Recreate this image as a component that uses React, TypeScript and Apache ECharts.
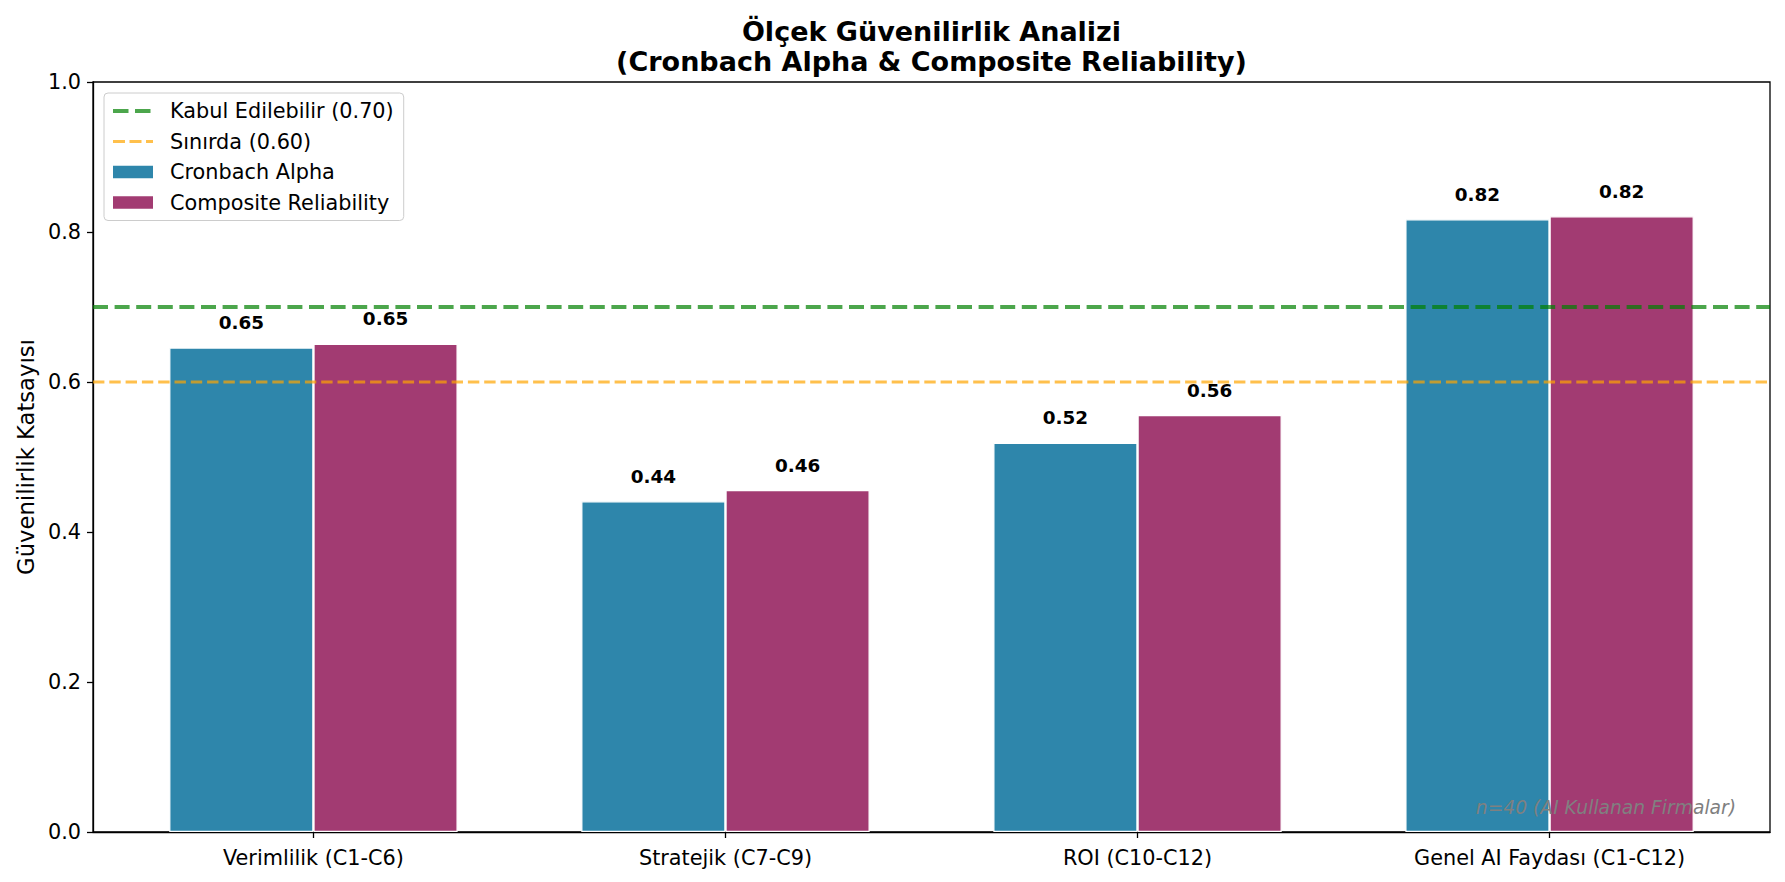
import React, { useEffect, useRef } from "react";
import * as echarts from "echarts";

const categories = ["Verimlilik (C1-C6)", "Stratejik (C7-C9)", "ROI (C10-C12)", "Genel AI Faydası (C1-C12)"];
const categoryPositions = [0, 1, 2, 3];
const cronbachAlpha = [0.646, 0.441, 0.519, 0.817];
const compositeReliability = [0.651, 0.456, 0.556, 0.821];
const acceptableThreshold = 0.7;
const borderlineThreshold = 0.6;
const xRange = [-0.535, 3.535];

const FONT = "DejaVu Sans";

const GREEN = "rgba(0,128,0,0.7)";
const ORANGE = "rgba(255,165,0,0.7)";
const BLUE = "#2E86AB";
const MAGENTA = "#A23B72";

// legend handle shapes (dashed line samples)
const greenDashIcon = "path://M0,0H15.5V4H0Z M22,0H37.5V4H22Z M40,0L40,4Z";
const orangeDashIcon = "path://M0,0.5H12V3.5H0Z M16.5,0.5H28.5V3.5H16.5Z M33,0.5H40V3.5H33Z M0,0L0,4Z M40,0L40,4Z";

export default function App() {
  const ref = useRef<HTMLDivElement>(null);
  useEffect(() => {
    document.body.style.margin = "0";
    const chart = echarts.init(ref.current!, null, { renderer: "svg" });
    const W = 1785;
    const gridLeft = 93;
    const gridRight = 15;
    const gridTop = 82;
    const gridBottom = 50;
    const plotCenter = (gridLeft + (W - gridRight)) / 2;

    const barLabel = {
      show: true,
      position: "top",
      distance: 16,
      formatter: (p: any) => Number(p.value[1]).toFixed(2),
      fontFamily: FONT,
      fontWeight: "bold",
      fontSize: 18.4,
      color: "#000",
    };

    chart.setOption({
      animation: false,
      backgroundColor: "#fff",
      textStyle: { fontFamily: FONT },
      grid: {
        left: gridLeft,
        right: gridRight,
        top: gridTop,
        bottom: gridBottom,
        outerBoundsMode: "none",
        containLabel: false,
        show: true,
        borderColor: "#000",
        borderWidth: 1.3,
        backgroundColor: "transparent",
      },
      legend: {
        orient: "vertical",
        left: 104,
        top: 93,
        padding: [7.5, 10, 7.5, 9],
        itemWidth: 40,
        itemHeight: 12.7,
        itemGap: 9.5,
        backgroundColor: "rgba(255,255,255,0.8)",
        borderColor: "#cccccc",
        borderWidth: 1,
        borderRadius: 4,
        itemStyle: { borderWidth: 0 },
        textStyle: {
          fontFamily: FONT,
          fontSize: 20.8,
          color: "#000",
          lineHeight: 21,
          padding: [0, 0, 0, 12],
        },
        data: [
          { name: "Kabul Edilebilir (0.70)", icon: greenDashIcon, itemStyle: { color: GREEN, borderWidth: 0 } },
          { name: "Sınırda (0.60)", icon: orangeDashIcon, itemStyle: { color: ORANGE, borderWidth: 0 } },
          { name: "Cronbach Alpha", icon: "rect", itemStyle: { color: BLUE, borderWidth: 0 } },
          { name: "Composite Reliability", icon: "rect", itemStyle: { color: MAGENTA, borderWidth: 0 } },
        ],
      },
      xAxis: {
        type: "value",
        min: xRange[0],
        max: xRange[1],
        splitLine: { show: false },
        axisLine: { show: true, onZero: false, lineStyle: { color: "#000", width: 1.3 } },
        axisTick: {
          show: true,
          customValues: categoryPositions,
          length: 6,
          lineStyle: { color: "#000", width: 1.3 },
        },
        axisLabel: {
          customValues: categoryPositions,
          formatter: (v: number) => categories[Math.round(v)] ?? "",
          fontFamily: FONT,
          fontSize: 20.8,
          color: "#000",
          margin: 15,
        },
      },
      yAxis: {
        type: "value",
        min: 0,
        max: 1,
        interval: 0.2,
        splitLine: { show: false },
        axisLine: { show: true, onZero: false, lineStyle: { color: "#000", width: 1.3 } },
        axisTick: { show: true, length: 6, lineStyle: { color: "#000", width: 1.3 } },
        axisLabel: {
          formatter: (v: number) => v.toFixed(1),
          fontFamily: FONT,
          fontSize: 20.8,
          color: "#000",
          margin: 12,
        },
        name: "Güvenilirlik Katsayısı",
        nameLocation: "middle",
        nameRotate: 90,
        nameGap: 56,
        nameTextStyle: { fontFamily: FONT, fontSize: 22.7, color: "#000" },
      },
      series: [
        {
          name: "Cronbach Alpha",
          type: "bar",
          data: categoryPositions.map((x, i) => [x, cronbachAlpha[i]]),
          barWidth: "35%",
          barGap: "0%",
          itemStyle: { color: BLUE, borderColor: "#fff", borderWidth: 1.2 },
          label: barLabel,
          z: 2,
        },
        {
          name: "Composite Reliability",
          type: "bar",
          data: categoryPositions.map((x, i) => [x, compositeReliability[i]]),
          barWidth: "35%",
          barGap: "0%",
          itemStyle: { color: MAGENTA, borderColor: "#fff", borderWidth: 1.2 },
          label: barLabel,
          z: 2,
        },
        {
          name: "Kabul Edilebilir (0.70)",
          type: "line",
          data: [
            [xRange[0], acceptableThreshold],
            [xRange[1], acceptableThreshold],
          ],
          symbol: "none",
          lineStyle: { color: GREEN, width: 4.1, type: [15, 6.6] },
          itemStyle: { color: GREEN },
          z: 5,
        },
        {
          name: "Sınırda (0.60)",
          type: "line",
          data: [
            [xRange[0], borderlineThreshold],
            [xRange[1], borderlineThreshold],
          ],
          symbol: "none",
          lineStyle: { color: ORANGE, width: 3.1, type: [11.4, 4.9] },
          itemStyle: { color: ORANGE },
          z: 5,
        },
      ],
      graphic: [
        {
          type: "text",
          x: plotCenter,
          y: 31,
          style: {
            text: "Ölçek Güvenilirlik Analizi",
            font: `bold 27px "${FONT}"`,
            fill: "#000",
            textAlign: "center",
            textVerticalAlign: "middle",
          },
        },
        {
          type: "text",
          x: plotCenter,
          y: 61.5,
          style: {
            text: "(Cronbach Alpha & Composite Reliability)",
            font: `bold 27px "${FONT}"`,
            fill: "#000",
            textAlign: "center",
            textVerticalAlign: "middle",
          },
        },
        {
          type: "text",
          x: 1736,
          y: 817,
          z: 10,
          style: {
            text: "n=40 (AI Kullanan Firmalar)",
            font: `italic 18.7px "${FONT}"`,
            fill: "#808080",
            textAlign: "right",
            textVerticalAlign: "bottom",
          },
        },
      ],
    });
    return () => chart.dispose();
  }, []);
  return (
    <div
      ref={ref}
      style={{ position: "fixed", left: 0, top: 0, width: 1785, height: 882 }}
    />
  );
}
